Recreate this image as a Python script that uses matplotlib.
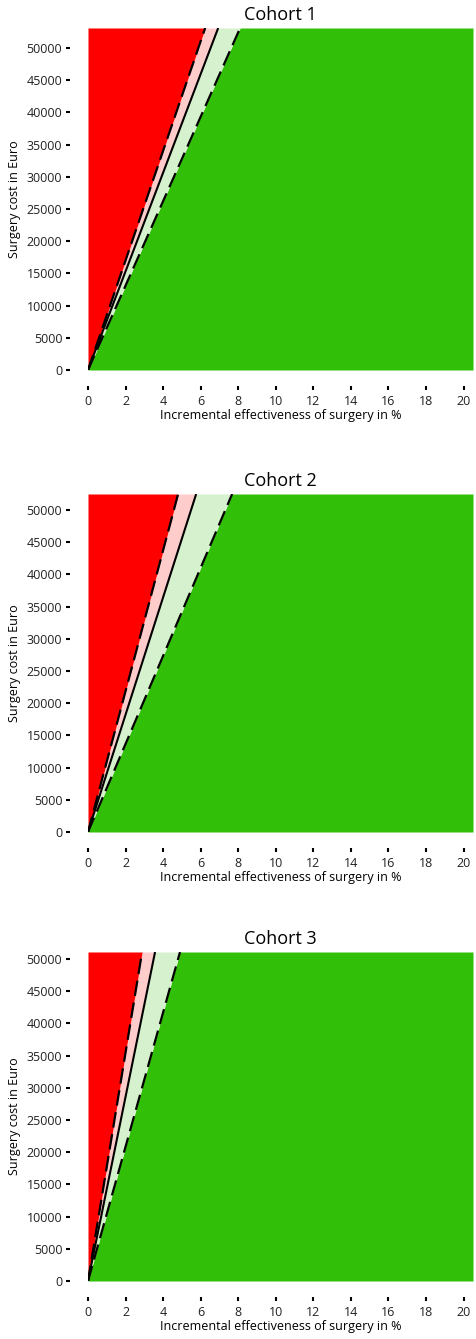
import matplotlib

matplotlib.use("Agg")
import matplotlib.pyplot as plt
import numpy as np

plt.rcParams["font.family"] = ["Open Sans", "DejaVu Sans"]

# Values
cohorts = ["Cohort 1", "Cohort 2", "Cohort 3"]
cost_max = [53100, 52500, 51100]  # top of the cost axis (Euro)
# break-even surgery cost per %-point of effectiveness (Euro)
wtp_upper = [8510, 10940, 17740]  # left dashed line
wtp_point = [7660, 9115, 14310]  # solid line
wtp_lower = [6555, 6840, 10430]  # right dashed line
eff_max = 20.5
x_ticks = list(range(0, 21, 2))
y_ticks = list(range(0, 50001, 5000))

RED = "#ff0000"
PINK = "#ffcccc"
LIGHT_GREEN = "#d6f1cd"
GREEN = "#32bf08"

W, H = 476, 1339
# axes boxes in pixels: (left, top, right, bottom)
boxes = [(88, 28, 473, 370), (88, 494, 473, 832), (88, 952, 473, 1281)]

fig = plt.figure(figsize=(W / 100, H / 100), dpi=100)

for i, name in enumerate(cohorts):
    l, t, r, b = boxes[i]
    ax = fig.add_axes([l / W, 1 - b / H, (r - l) / W, (b - t) / H])
    y = np.array([0, cost_max[i]])
    x_up = y / wtp_upper[i]
    x_pt = y / wtp_point[i]
    x_lo = y / wtp_lower[i]

    ax.fill_betweenx(y, x_lo, eff_max, color=GREEN, lw=0)
    ax.fill_betweenx(y, x_pt, x_lo, color=LIGHT_GREEN, lw=0)
    ax.fill_betweenx(y, x_up, x_pt, color=PINK, lw=0)
    ax.fill_betweenx(y, 0, x_up, color=RED, lw=0)

    ax.plot(x_pt, y, color="black", lw=1.5, solid_capstyle="butt")
    for xs in (x_up, x_lo):
        ax.plot(xs, y, color="black", lw=1.6, dashes=(7, 3), dash_capstyle="butt")

    ax.set_xlim(0, eff_max)
    ax.set_ylim(0, cost_max[i])
    ax.set_xticks(x_ticks)
    ax.set_yticks(y_ticks)

    for side in ("top", "right"):
        ax.spines[side].set_visible(False)
    ax.spines["left"].set_position(("outward", 13))
    ax.spines["bottom"].set_position(("outward", 11.5))
    ax.spines["left"].set_color("none")
    ax.spines["bottom"].set_color("none")
    ax.tick_params(length=3, width=1.5, color="black", labelsize=9,
                   labelcolor="#222222")
    ax.tick_params(axis="y", pad=2.5)
    ax.tick_params(axis="x", pad=3.5)

    ax.set_title(name, fontsize=13, pad=6)
    ax.set_xlabel("Incremental effectiveness of surgery in %", fontsize=9,
                  labelpad=1)
    ax.set_ylabel("Surgery cost in Euro", fontsize=9, labelpad=4)

fig.savefig("out.png", dpi=100)
